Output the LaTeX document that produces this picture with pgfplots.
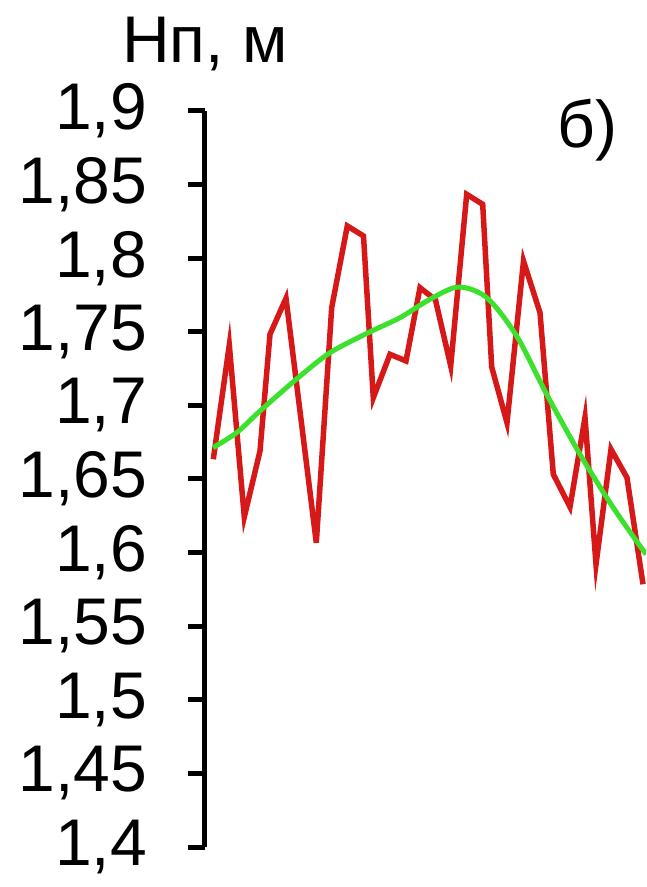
\documentclass[border=0pt]{standalone}
\usepackage{pgfplots}
\pgfplotsset{compat=1.18}
\usepackage{fontspec}
\setmainfont{Liberation Sans}
\definecolor{redline}{RGB}{214,24,24}
\definecolor{greenline}{RGB}{60,225,45}
\begin{document}
\begin{tikzpicture}
\begin{axis}[
  scale only axis,
  width=441pt, height=736pt,
  xmin=205, xmax=646,
  ymin=1.4, ymax=1.9,
  hide x axis,
  axis y line*=left,
  y axis line style={-, line width=5pt},
  ytick={1.4,1.45,...,1.91},
  tick align=outside,
  major tick length=17pt,
  ytick style={line width=5pt, black},
  /pgf/number format/assume math mode=true,
  /pgf/number format/use comma,
  /pgf/number format/fixed,
  /pgf/number format/precision=2,
  yticklabel style={font=\fontsize{66}{66}\selectfont, inner sep=0pt, anchor=east, xshift=-41pt},
  clip mode=individual,
]
\addplot[redline, line width=5.5pt, line join=miter] coordinates {
(213.3,1.6634) (229.3,1.741) (244.3,1.6242) (260,1.669) (270,1.7483)
(286,1.7728) (316.3,1.6067) (331.7,1.7664) (347.3,1.8219) (363.5,1.8151)
(373.3,1.7052) (390,1.7347) (406,1.7302) (420,1.78) (435.5,1.7716)
(450.7,1.7268) (466.7,1.8434) (482.7,1.8366) (491.7,1.7261) (507,1.6882)
(523.5,1.7981) (540,1.763) (553.3,1.6532) (570,1.631) (585,1.6918)
(596,1.592) (611,1.6702) (627,1.6509) (643,1.5785)
};
\addplot[greenline, line width=5pt, smooth] coordinates {
(213,1.6713) (236.7,1.6815) (260,1.6962) (296.7,1.7180) (330,1.7358)
(368.3,1.7494) (400,1.7596) (430,1.7721) (458.3,1.7804) (486.7,1.7732)
(516.7,1.7471) (546.7,1.7075) (580,1.6668) (613.3,1.6305) (646,1.5988)
};
\node[font=\fontsize{66}{66}\selectfont, anchor=base, inner sep=0pt] at (rel axis cs:0,1) [yshift=48pt] {Нп, м};
\node[font=\fontsize{66}{66}\selectfont, anchor=base west, inner sep=0pt] at (rel axis cs:0,1) [xshift=352pt, yshift=-37pt] {б)};
\end{axis}
\pgfresetboundingbox
\path[use as bounding box] (-205pt,-40pt) rectangle (441pt,847pt);
\end{tikzpicture}
\end{document}
